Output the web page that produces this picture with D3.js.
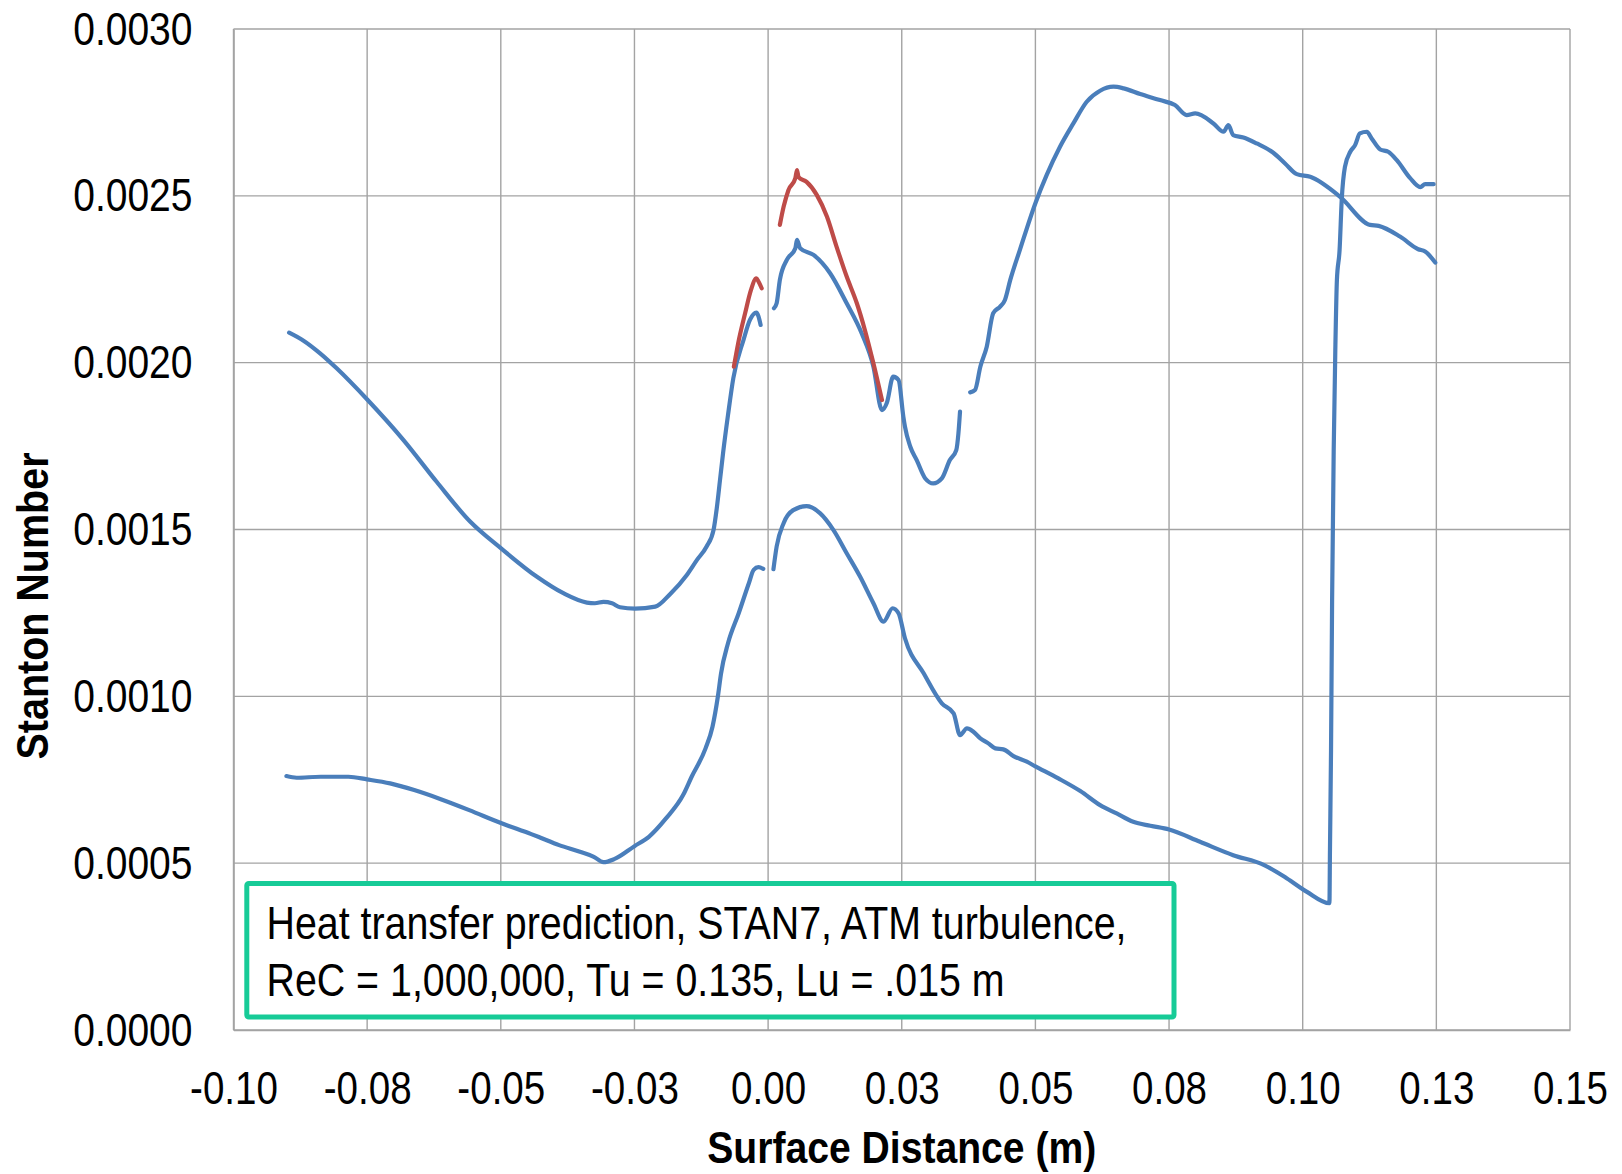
<!DOCTYPE html>
<html>
<head>
<meta charset="utf-8">
<script src="https://cdn.jsdelivr.net/npm/d3@7"></script>
<style>
  html, body { margin: 0; padding: 0; background: #ffffff; }
  svg { display: block; }
  .narrow { font-family: "Liberation Sans Narrow", "Arial Narrow", "Liberation Sans", Arial, sans-serif; }
</style>
</head>
<body>
<svg id="chart" width="1622" height="1174"></svg>
<script>
// Axis ticks
const xTickValues = [-0.1, -0.075, -0.05, -0.025, 0, 0.025, 0.05, 0.075, 0.1, 0.125, 0.15];
const xTickLabels = ["-0.10", "-0.08", "-0.05", "-0.03", "0.00", "0.03", "0.05", "0.08", "0.10", "0.13", "0.15"];
const yTickValues = [0, 0.0005, 0.001, 0.0015, 0.002, 0.0025, 0.003];
const yTickLabels = ["0.0000", "0.0005", "0.0010", "0.0015", "0.0020", "0.0025", "0.0030"];

// Upper blue curve (null marks a break in the line)
const upperDist = [
  -0.0896, -0.0869, -0.0838, -0.0807, -0.0749, -0.0682, -0.0620, -0.0557, -0.0500, -0.0433,
  -0.0383, -0.0339, -0.0324, -0.0308, -0.0292, -0.0277, -0.0249, -0.0211, -0.0183, -0.0152,
  -0.0133, -0.0115, -0.0102, -0.0096, -0.0090, -0.0084, -0.0075, -0.0065, -0.0046, -0.0034,
  -0.0022, -0.0014, null,
  0.0011, 0.0016, 0.0022, 0.0035, 0.0051, 0.0054, 0.0060, 0.0085, 0.0116, 0.0147,
  0.0175, 0.0197, 0.0213, 0.0222, 0.0234, 0.0244, 0.0253, 0.0256, 0.0266, 0.0278,
  0.0294, 0.0309, 0.0325, 0.0340, 0.0352, 0.0356, 0.0359, null,
  0.0378, 0.0387, 0.0397, 0.0409, 0.0421, 0.0434, 0.0443, 0.0453, 0.0471, 0.0500,
  0.0521, 0.0546, 0.0571, 0.0596, 0.0621, 0.0646, 0.0665, 0.0696, 0.0733, 0.0761,
  0.0783, 0.0799, 0.0833, 0.0852, 0.0861, 0.0870, 0.0889, 0.0914, 0.0945, 0.0967,
  0.0989, 0.1014, 0.1070, 0.1126, 0.1142, 0.1182, 0.1216, 0.1229, 0.1248
];
const upperStanton = [
  0.002090, 0.002066, 0.002028, 0.001983, 0.001888, 0.001768, 0.001643, 0.001523, 0.001444, 0.001359,
  0.001309, 0.001281, 0.001279, 0.001283, 0.001279, 0.001267, 0.001263, 0.001269, 0.001307, 0.001364,
  0.001409, 0.001449, 0.001499, 0.001564, 0.001648, 0.001732, 0.001843, 0.001954, 0.002068, 0.002128,
  0.002150, 0.002113, null,
  0.002163, 0.002178, 0.002248, 0.002308, 0.002343, 0.002368, 0.002343, 0.002323, 0.002268, 0.002178,
  0.002088, 0.001988, 0.001858, 0.001879, 0.001958, 0.001948, 0.001838, 0.001808, 0.001748, 0.001708,
  0.001653, 0.001638, 0.001653, 0.001708, 0.001738, 0.001788, 0.001853, null,
  0.001911, 0.001918, 0.001988, 0.002048, 0.002148, 0.002168, 0.002188, 0.002248, 0.002338, 0.002478,
  0.002562, 0.002647, 0.002717, 0.002782, 0.002815, 0.002827, 0.002822, 0.002805, 0.002787, 0.002772,
  0.002742, 0.002747, 0.002717, 0.002692, 0.002712, 0.002682, 0.002675, 0.002657, 0.002629, 0.002597,
  0.002565, 0.002557, 0.002497, 0.002413, 0.002410, 0.002378, 0.002340, 0.002333, 0.002300
];

// Lower blue curve
const lowerDist = [
  -0.0901, -0.0882, -0.0837, -0.0785, -0.0750, -0.0707, -0.0662, -0.0611, -0.0559, -0.0501,
  -0.0443, -0.0430, -0.0391, -0.0352, -0.0326, -0.0308, -0.0288, -0.0250, -0.0223, -0.0191,
  -0.0159, -0.0143, -0.0117, -0.0104, -0.0094, -0.0088, -0.0075, -0.0055, -0.0036, -0.0027,
  -0.0018, -0.0009, null,
  0.0010, 0.0016, 0.0029, 0.0047, 0.0072, 0.0097, 0.0122, 0.0147, 0.0172, 0.0197,
  0.0216, 0.0233, 0.0244, 0.0256, 0.0291, 0.0325, 0.0347, 0.0359, 0.0372, 0.0384,
  0.0397, 0.0412, 0.0425, 0.0440, 0.0459, 0.0484, 0.0499, 0.0543, 0.0584, 0.0621,
  0.0652, 0.0683, 0.0715, 0.0750, 0.0808, 0.0870, 0.0927, 0.0970, 0.1008, 0.1050,
  0.1051, 0.1053, 0.1055, 0.1058, 0.1061, 0.1064, 0.1069, 0.1073, 0.1079, 0.1089,
  0.1098, 0.1107, 0.1120, 0.1129, 0.1145, 0.1160, 0.1176, 0.1201, 0.1220, 0.1229,
  0.1245
];
const lowerStanton = [
  0.000761, 0.000756, 0.000759, 0.000759, 0.000751, 0.000739, 0.000719, 0.000691, 0.000659, 0.000621,
  0.000587, 0.000579, 0.000554, 0.000534, 0.000519, 0.000503, 0.000512, 0.000551, 0.000579, 0.000634,
  0.000704, 0.000759, 0.000844, 0.000909, 0.000999, 0.001069, 0.001159, 0.001249, 0.001339, 0.001379,
  0.001387, 0.001382, null,
  0.001381, 0.001449, 0.001519, 0.001558, 0.001570, 0.001549, 0.001499, 0.001429, 0.001359, 0.001279,
  0.001224, 0.001264, 0.001249, 0.001174, 0.001069, 0.000979, 0.000949, 0.000884, 0.000904, 0.000894,
  0.000874, 0.000859, 0.000844, 0.000841, 0.000821, 0.000804, 0.000791, 0.000754, 0.000716, 0.000674,
  0.000649, 0.000624, 0.000612, 0.000601, 0.000564, 0.000524, 0.000495, 0.000455, 0.000414, 0.000380,
  0.000539, 0.000839, 0.001289, 0.001738, 0.002038, 0.002248, 0.002338, 0.002488, 0.002587, 0.002632,
  0.002652, 0.002687, 0.002692, 0.002672, 0.002639, 0.002632, 0.002607, 0.002553, 0.002526, 0.002535,
  0.002535
];

// Red curve near the leading edge
const redDist = [
  -0.0064, -0.0056, -0.0043, -0.0032, -0.0022, -0.0018, -0.0012, null,
  0.0022, 0.0029, 0.0038, 0.0051, 0.0054, 0.0057, 0.0072, 0.0091, 0.0110, 0.0128,
  0.0147, 0.0166, 0.0181, 0.0197, 0.0213
];
const redStanton = [
  0.001988, 0.002058, 0.002148, 0.002218, 0.002253, 0.002243, 0.002223, null,
  0.002413, 0.002467, 0.002517, 0.002553, 0.002577, 0.002556, 0.002542, 0.002503, 0.002438, 0.002348,
  0.002258, 0.002178, 0.002098, 0.001998, 0.001888
];

const noteLines = [
  "Heat transfer prediction, STAN7, ATM turbulence,",
  "ReC = 1,000,000, Tu = 0.135, Lu = .015 m"
];

const svg = d3.select("#chart");
const plot = { left: 233.5, right: 1570, top: 29, bottom: 1030 };

const x = d3.scaleLinear().domain([-0.1, 0.15]).range([plot.left, plot.right]);
const y = d3.scaleLinear().domain([0, 0.003]).range([plot.bottom, plot.top]);

const gridColor = "#a3a3a3";

// Condense a text element horizontally (narrow face look)
function condense(ratio) {
  return function () {
    const w = this.getComputedTextLength();
    this.setAttribute("textLength", (w * ratio).toFixed(1));
    this.setAttribute("lengthAdjust", "spacingAndGlyphs");
  };
}
function fitTo(width) {
  return function () {
    this.setAttribute("textLength", width);
    this.setAttribute("lengthAdjust", "spacingAndGlyphs");
  };
}

// Gridlines
const grid = svg.append("g");
grid.selectAll("line.v").data(xTickValues).enter().append("line")
  .attr("x1", d => x(d)).attr("x2", d => x(d))
  .attr("y1", plot.top).attr("y2", plot.bottom)
  .attr("stroke", gridColor).attr("stroke-width", 1.4);
grid.selectAll("line.h").data(yTickValues).enter().append("line")
  .attr("x1", plot.left).attr("x2", plot.right)
  .attr("y1", d => y(d)).attr("y2", d => y(d))
  .attr("stroke", gridColor).attr("stroke-width", 1.4);

// Axes (labels only; the grid supplies the lines)
const xAxis = d3.axisBottom(x).tickValues(xTickValues)
  .tickFormat((d, i) => xTickLabels[i]).tickSize(0).tickPadding(0);
const gx = svg.append("g").attr("transform", `translate(0,${plot.bottom})`).call(xAxis);
gx.select(".domain").attr("stroke", gridColor).attr("stroke-width", 1.6);
gx.selectAll("text").attr("class", "narrow").attr("font-size", 47).attr("fill", "#000")
  .attr("dy", null).attr("y", 74).each(condense(0.82));

const yAxis = d3.axisLeft(y).tickValues(yTickValues)
  .tickFormat((d, i) => yTickLabels[i]).tickSize(0).tickPadding(0);
const gy = svg.append("g").attr("transform", `translate(${plot.left},0)`).call(yAxis);
gy.select(".domain").attr("stroke", gridColor).attr("stroke-width", 1.6);
gy.selectAll("text").attr("class", "narrow").attr("font-size", 47).attr("fill", "#000")
  .attr("dy", null).attr("y", 15).attr("x", -41).each(condense(0.83));

// Axis titles
svg.append("text").attr("class", "narrow")
  .attr("x", (plot.left + plot.right) / 2).attr("y", 1163)
  .attr("text-anchor", "middle").attr("font-size", 45).attr("font-weight", "bold")
  .text("Surface Distance (m)").each(fitTo(389));
svg.append("text").attr("class", "narrow")
  .attr("transform", "translate(48,606) rotate(-90)")
  .attr("text-anchor", "middle").attr("font-size", 45).attr("font-weight", "bold")
  .text("Stanton Number").each(fitTo(307));

// Curves
const line = d3.line()
  .defined(d => d[0] != null && d[1] != null)
  .x(d => x(d[0])).y(d => y(d[1]))
  .curve(d3.curveMonotoneX);

function drawSeries(dist, st, color) {
  const pts = dist.map((d, i) => [d, st[i]]);
  svg.append("path").datum(pts)
    .attr("d", line)
    .attr("fill", "none")
    .attr("stroke", color)
    .attr("stroke-width", 4.2)
    .attr("stroke-linecap", "round")
    .attr("stroke-linejoin", "round");
}
drawSeries(upperDist, upperStanton, "#4a7ebb");
drawSeries(lowerDist, lowerStanton, "#4a7ebb");
drawSeries(redDist, redStanton, "#be4b48");

// Annotation box
svg.append("rect")
  .attr("x", 246.8).attr("y", 883.5).attr("width", 927.2).attr("height", 133.5)
  .attr("rx", 2)
  .attr("fill", "#ffffff").attr("stroke", "#17cb97").attr("stroke-width", 5);
svg.selectAll("text.note").data(noteLines).enter().append("text")
  .attr("class", "narrow note")
  .attr("x", 266.5).attr("y", (d, i) => 939 + i * 57)
  .attr("font-size", 47).attr("fill", "#000")
  .text(d => d)
  .each(condense(0.837));
</script>
</body>
</html>
